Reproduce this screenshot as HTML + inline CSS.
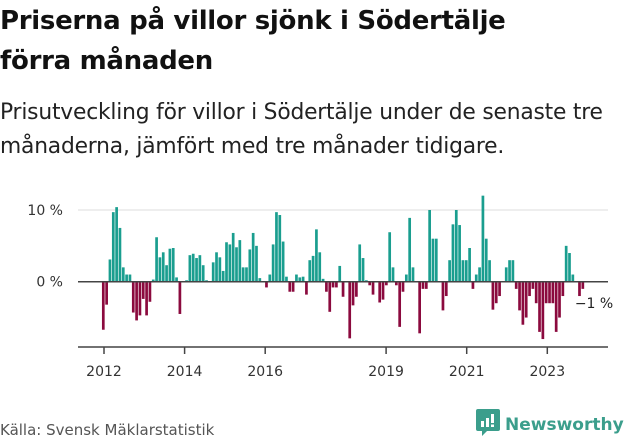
<!DOCTYPE html>
<html><head><meta charset="utf-8"><style>
body{margin:0;width:631px;height:439px;background:#fff;font-family:"DejaVu Sans","Liberation Sans",sans-serif;color:#111;overflow:hidden;position:relative}
.t{position:absolute;left:0;top:1px;font-size:26px;font-weight:bold;line-height:40px;letter-spacing:-0.3px;white-space:nowrap}
.s{position:absolute;left:0;top:96px;font-size:21.8px;line-height:34px;color:#222;letter-spacing:-0.2px;white-space:nowrap}
.src{position:absolute;left:0;top:421px;font-size:15px;color:#555}
.logo{position:absolute;left:476px;top:409px;color:#3b9e8c;font-weight:bold;font-size:17px;white-space:nowrap}
</style></head><body>
<div class="t">Priserna på villor sjönk i Södertälje<br>förra månaden</div>
<div class="s">Prisutveckling för villor i Södertälje under de senaste tre<br>månaderna, jämfört med tre månader tidigare.</div>
<svg id="c" width="631" height="439" style="position:absolute;left:0;top:0"></svg>
<div class="src">Källa: Svensk Mäklarstatistik</div>
<div class="logo"><svg width="24" height="28" style="vertical-align:-7px;margin-right:5px"><path d="M2 0h20a2 2 0 0 1 2 2v18a2 2 0 0 1-2 2H11l-5 5v-5H2a2 2 0 0 1-2-2V2a2 2 0 0 1 2-2z" fill="#3b9e8c"/><rect x="5" y="12" width="3" height="6" fill="#fff"/><rect x="10" y="9" width="3" height="9" fill="#fff"/><rect x="15" y="5" width="3" height="9" fill="#fff"/><rect x="15" y="15.5" width="3" height="2.5" fill="#fff"/></svg>Newsworthy</div>
<script>
const values=[-6.7,-3.2,3.1,9.7,10.4,7.5,2.0,1.0,1.0,-4.3,-5.4,-4.7,-2.4,-4.7,-2.8,0.3,6.2,3.4,4.1,2.3,4.6,4.7,0.6,-4.5,0,0.2,3.7,3.9,3.3,3.7,2.3,0.2,0,2.7,4.1,3.4,1.5,5.5,5.2,6.8,4.8,5.8,2.0,2.0,4.5,6.8,5.0,0.5,0,-0.8,1.0,5.2,9.7,9.3,5.6,0.7,-1.4,-1.4,1.0,0.6,0.7,-1.8,3.0,3.6,7.3,4.1,0.4,-1.4,-4.2,-0.8,-0.8,
2.2,-2.1,0,-7.9,-3.3,-2.1,5.2,3.3,0.2,-0.5,-1.8,0,-2.9,-2.5,-0.5,6.9,2.0,-0.5,-6.3,-1.4,1.0,8.9,2.0,0,-7.2,-1.0,-1.0,10.0,6.0,6.0,0,-4.0,-2.0,3.0,8.0,10.0,7.9,3.0,3.0,4.7,-1.0,1.0,2.0,12.0,6.0,3.0,-3.9,-3.0,-2.0,0,2.0,3.0,3.0,-1.0,-4.0,-6.0,-5.0,-2.0,-1.0,-3.0,-7.0,-8.0,-3.0,-3.0,-3.0,-7.0,-5.0,-2.0,5.0,4.0,1.0,0,-2.0,-1.0];
const yTicks=[0,10];
const yTickLabels=["0 %","10 %"];
const xYears=[2012,2014,2016,2019,2021,2023];
const lastLabel="−1 %";
const svg=document.getElementById('c');
const NS='http://www.w3.org/2000/svg';
const y=v=>281.7-v*7.17;
const xi=i=>103.3+i*3.33;
const xYear=yr=>104+(yr-2012)*40.3;
function mk(t,a){const e=document.createElementNS(NS,t);for(const k in a)e.setAttribute(k,a[k]);svg.appendChild(e);return e;}
yTicks.forEach((v,k)=>{
 if(v!==0){const g=mk('line',{x1:78,x2:608,y1:y(v),y2:y(v),stroke:'#ddd','stroke-width':1});
 
 }
 const t=mk('text',{x:63,y:y(v)+5,'text-anchor':'end','font-size':14,fill:'#333','font-family':'DejaVu Sans, sans-serif'});
 t.textContent=yTickLabels[k];
 
 
});
values.forEach((v,i)=>{
 const r=mk('rect',{x:xi(i)-1.35,width:2.7,y:v>=0?y(v):y(0),height:Math.abs(y(v)-y(0)),fill:v>=0?'#1a9e8f':'#8b0a3e'});
 
 
});
const z=mk('line',{x1:78,x2:608,y1:y(0),y2:y(0),stroke:'#444','stroke-width':1.5});


const ax=mk('line',{x1:78,x2:608,y1:347,y2:347,stroke:'#444','stroke-width':1.5});


xYears.forEach(yr=>{
 const tk=mk('line',{x1:xYear(yr),x2:xYear(yr),y1:347,y2:354,stroke:'#444','stroke-width':1.5});
 
 
 const t=mk('text',{x:xYear(yr),y:376,'text-anchor':'middle','font-size':14,fill:'#333','font-family':'DejaVu Sans, sans-serif'});
 t.textContent=yr;
 
 
});
const li=values.length-1;
const lab=mk('text',{x:xi(li)-8,y:y(values[li])+19,'font-size':14,fill:'#222','font-family':'DejaVu Sans, sans-serif',stroke:'#fff','stroke-width':3,'paint-order':'stroke'});
lab.textContent=lastLabel;


</script>
</body></html>
